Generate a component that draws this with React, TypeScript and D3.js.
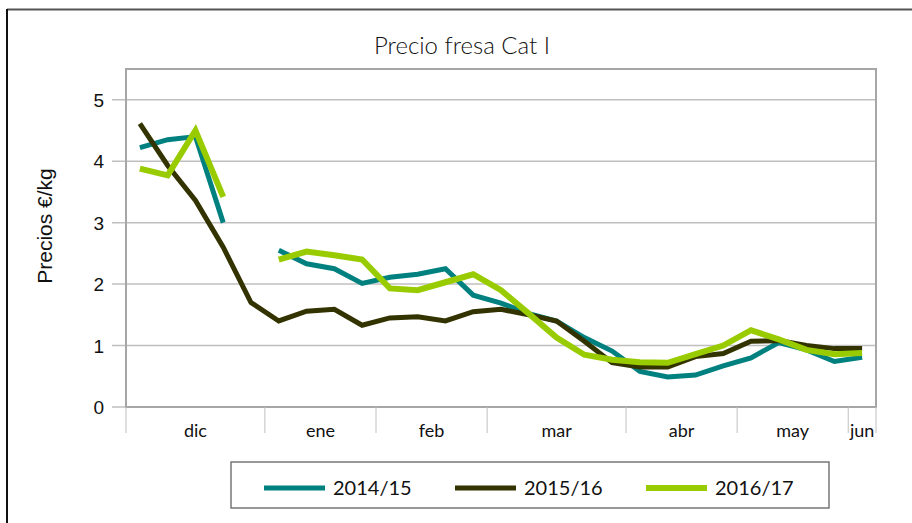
import React from "react";
import * as d3 from "d3";

// weekly prices, Dec -> Jun (27 weeks)
const months = ["dic", "ene", "feb", "mar", "abr", "may", "jun"];
const weeksPerMonth = [5, 4, 4, 5, 4, 4, 1];
const yTicks = [0, 1, 2, 3, 4, 5];

const s1415 = [4.22, 4.35, 4.4, 3.0, null, 2.55, 2.33, 2.25, 2.01, 2.11, 2.16, 2.25, 1.82, 1.69, 1.52, 1.4, 1.13, 0.91, 0.58, 0.49, 0.52, 0.67, 0.8, 1.05, 0.93, 0.74, 0.81];
const s1516 = [4.61, 3.93, 3.36, 2.6, 1.7, 1.4, 1.56, 1.59, 1.33, 1.45, 1.47, 1.4, 1.55, 1.59, 1.5, 1.4, 1.07, 0.72, 0.65, 0.65, 0.82, 0.87, 1.07, 1.08, 1.0, 0.95, 0.95];
const s1617 = [3.88, 3.77, 4.5, 3.42, null, 2.4, 2.53, 2.47, 2.4, 1.93, 1.9, 2.03, 2.16, 1.9, 1.52, 1.13, 0.85, 0.77, 0.73, 0.72, 0.86, 1.0, 1.25, 1.1, 0.93, 0.86, 0.88];

const seriesNames = ["2014/15", "2015/16", "2016/17"];
const seriesData = [s1415, s1516, s1617];
const colors = ["#00807f", "#333300", "#99cc00"];
const widths = [5, 5, 6];

const App = () => {
  const width = 912;
  const height = 523;
  const margin = { top: 69, right: 36, bottom: 116, left: 126 };
  const plotBottom = height - margin.bottom;
  const plotRight = width - margin.right;

  const nWeeks = d3.sum(weeksPerMonth);
  const weeks = d3.range(nWeeks);

  const x = d3.scaleBand<number>().domain(weeks).range([margin.left, plotRight]).padding(0);
  const y = d3.scaleLinear().domain([0, 5.5]).range([plotBottom, margin.top]);
  const cx = (i: number) => (x(i) as number) + x.bandwidth() / 2;

  const line = d3
    .line<number | null>()
    .defined((d) => d != null)
    .x((_, i) => cx(i))
    .y((d) => y(d as number));

  // month boundaries
  const starts = weeksPerMonth.map((_, m) => d3.sum(weeksPerMonth.slice(0, m)));
  const edge = (i: number) => (i >= nWeeks ? plotRight : (x(i) as number));

  const tickFont = "'Liberation Sans', Arial, sans-serif";
  const textFont = "Lato, 'Noto Sans', sans-serif";

  const legendY = 488;
  const legendItems = [264, 455, 646];

  return (
    <svg
      width={width}
      height={height}
      style={{ position: "absolute", left: 0, top: 0, background: "#fff" }}
    >
      {/* outer chart border */}
      <line x1={7} y1={9.5} x2={width} y2={9.5} stroke="#555" strokeWidth={2} />
      <line x1={7} y1={9} x2={7} y2={height} stroke="#111" strokeWidth={2} />

      <text x={462} y={54} textAnchor="middle" fontSize={24} fontWeight={300} fontFamily={textFont} fill="#111">
        Precio fresa Cat I
      </text>

      {/* grid */}
      {yTicks.map((t) => (
        <g key={t}>
          <line x1={112} x2={plotRight} y1={y(t)} y2={y(t)} stroke="#bfbfbf" strokeWidth={1.5} />
          <text x={104} y={y(t) + 7} textAnchor="end" fontSize={19} fontFamily={tickFont} fill="#111">
            {t}
          </text>
        </g>
      ))}

      {/* plot border */}
      <rect
        x={margin.left}
        y={margin.top}
        width={plotRight - margin.left}
        height={plotBottom - margin.top}
        fill="none"
        stroke="#a6a6a6"
        strokeWidth={2}
      />

      {/* x axis month boundaries */}
      {[...starts, nWeeks].map((s, k) => (
        <line key={k} x1={edge(s)} x2={edge(s)} y1={plotBottom} y2={433} stroke="#c0c0c0" strokeWidth={1} />
      ))}
      {months.map((m, k) => (
        <text
          key={m}
          x={(edge(starts[k]) + edge(starts[k] + weeksPerMonth[k])) / 2}
          y={437}
          textAnchor="middle"
          fontSize={18}
          fontFamily={textFont}
          fill="#111"
        >
          {m}
        </text>
      ))}

      <text
        transform={`translate(52,226) rotate(-90)`}
        textAnchor="middle"
        fontSize={21}
        fontFamily={tickFont}
        fill="#111"
      >
        Precios €/kg
      </text>

      {/* series */}
      {seriesData.map((s, k) => (
        <path
          key={k}
          d={line(s) || ""}
          fill="none"
          stroke={colors[k]}
          strokeWidth={widths[k]}
          strokeLinejoin="miter"
        />
      ))}

      {/* legend */}
      <rect x={231} y={462} width={598} height={46} fill="#fff" stroke="#777" strokeWidth={1.5} />
      {seriesNames.map((n, k) => (
        <g key={n}>
          <line
            x1={legendItems[k]}
            x2={legendItems[k] + 61}
            y1={legendY}
            y2={legendY}
            stroke={colors[k]}
            strokeWidth={widths[k]}
          />
          <text x={legendItems[k] + 69} y={legendY + 7} fontSize={20} fontFamily={textFont} fill="#111">
            {n}
          </text>
        </g>
      ))}
    </svg>
  );
};

export default App;
